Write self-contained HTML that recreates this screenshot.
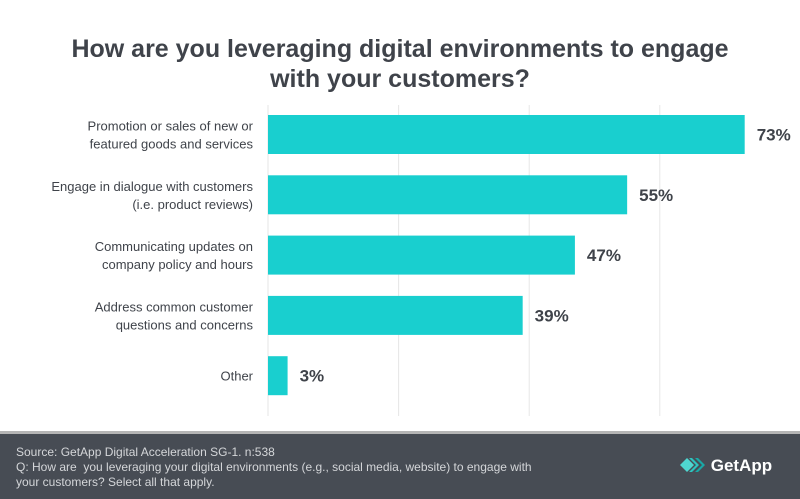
<!DOCTYPE html>
<html><head><meta charset="utf-8"><style>
body{margin:0;width:800px;height:499px;overflow:hidden;background:#fff;font-family:"Liberation Sans",sans-serif;}
#title{position:absolute;left:0;top:34px;width:800px;text-align:center;font-weight:bold;font-size:25px;line-height:30px;color:#3f434a;}
#footer{position:absolute;left:0;top:431px;width:800px;height:68px;background:#474c54;border-top:3px solid #b5b5b5;box-sizing:border-box;}
#src{position:absolute;left:16px;top:11px;font-size:12px;line-height:15px;color:#d4d6d9;}
#logo{position:absolute;left:680px;top:22px;color:#fff;font-size:17px;font-weight:bold;}
</style></head><body>
<div id="title">How are you leveraging digital environments to engage<br>with your customers?</div>
<svg id="chart" width="800" height="430" style="position:absolute;left:0;top:0"></svg>
<div id="footer">
<div id="src">Source: GetApp Digital Acceleration SG-1. n:538<br>Q: How are &nbsp;you leveraging your digital environments (e.g., social media, website) to engage with<br>your customers? Select all that apply.</div>
<div id="logo"><svg width="26" height="16" style="vertical-align:-2px"><polygon points="0,8 7,1 14,8 7,15" fill="#4fd6d0"/><polygon points="9,1 12,1 19,8 12,15 9,15 16,8" fill="#2ec4c0"/><polygon points="15,1 18,1 25,8 18,15 15,15 22,8" fill="#1aa8a6"/></svg> GetApp</div>
</div>
<script>
const categories=[["Promotion or sales of new or","featured goods and services"],["Engage in dialogue with customers","(i.e. product reviews)"],["Communicating updates on","company policy and hours"],["Address common customer","questions and concerns"],["Other"]];
const values=[73,55,47,39,3];
const valueLabels=["73%","55%","47%","39%","3%"];
const gridTicks=[0,20,40,60];
const svg=document.getElementById('chart');
const NS='http://www.w3.org/2000/svg';
const x=v=>268+6.53*v;
const y=i=>115+60.3*i;
const bh=39;
function mk(t,a){const e=document.createElementNS(NS,t);for(const k in a)e.setAttribute(k,a[k]);svg.appendChild(e);return e;}
gridTicks.forEach(t=>{const l=mk('line',{x1:x(t),x2:x(t),y1:105,y2:416,stroke:'#e6e6e6','stroke-width':1});

});
values.forEach((v,i)=>{
const r=mk('rect',{x:x(0),y:y(i),width:x(v)-x(0),height:bh,fill:'#19cfcf'});


const t=mk('text',{x:x(v)+12,y:y(i)+bh/2+6,'font-size':17,'font-weight':'bold',fill:'#3f434a','font-family':'Liberation Sans, sans-serif'});
t.textContent=valueLabels[i];


const lines=categories[i];
lines.forEach((s,j)=>{
const c=mk('text',{x:253,y:y(i)+bh/2+5+(j-(lines.length-1)/2)*18,'text-anchor':'end','font-size':13,fill:'#3f434a','font-family':'Liberation Sans, sans-serif'});
c.textContent=s;

});
});
</script>
</body></html>
